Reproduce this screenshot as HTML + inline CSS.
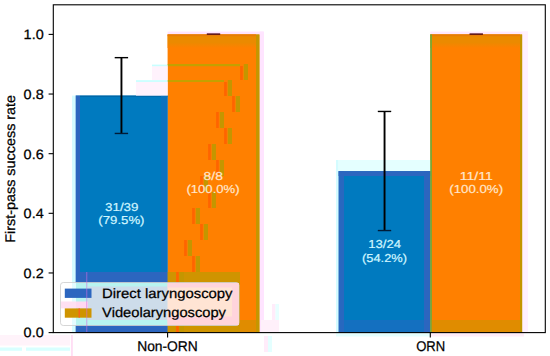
<!DOCTYPE html>
<html><head><meta charset="utf-8">
<style>
html,body{margin:0;padding:0;background:#fff;width:550px;height:356px;overflow:hidden}
svg{display:block}
text{font-family:"Liberation Sans",sans-serif;text-rendering:geometricPrecision}
</style></head>
<body>
<svg width="550" height="356" viewBox="0 0 550 356">
<defs><linearGradient id="tb" x1="0" y1="0" x2="0" y2="1"><stop offset="0" stop-color="#e88400"/><stop offset="0.1" stop-color="#eb8a00"/><stop offset="0.6" stop-color="#eb8a00"/><stop offset="1" stop-color="#ff8000"/></linearGradient></defs>
<rect x="0" y="0" width="550" height="356" fill="#fff"/>
<rect x="75.7" y="95.57" width="91.9" height="237.03" fill="#007abf"/>
<rect x="167.6" y="34.40" width="91.9" height="298.2" fill="#ff8000"/>
<rect x="338.6" y="171.08" width="91.7" height="161.53" fill="#007abf"/>
<rect x="430.3" y="34.40" width="91.9" height="298.2" fill="#ff8000"/>
<rect x="167.6" y="31.6" width="95.90" height="2.80" fill="#ffe4ff"/>
<rect x="430.3" y="31.6" width="97.70" height="2.80" fill="#ffe8ff"/>
<rect x="259.5" y="31.6" width="4.50" height="301.00" fill="#ffe4ff"/>
<rect x="522.2" y="31.6" width="5.80" height="301.00" fill="#fff0ff"/>
<rect x="72" y="95.6" width="3.70" height="237.00" fill="#d4fcff"/>
<rect x="336" y="160" width="2.60" height="172.60" fill="#d4fcff"/>
<rect x="338.6" y="160" width="91.70" height="11.10" fill="#e4ffff"/>
<rect x="75.7" y="95.6" width="4.30" height="237.00" fill="#2c66bf"/>
<rect x="80" y="95.6" width="87.60" height="1.20" fill="#0064a4"/>
<rect x="161" y="95.6" width="6.60" height="237.00" fill="#0c72bf"/>
<rect x="338.6" y="171.1" width="5.40" height="161.50" fill="#2868bf"/>
<rect x="344" y="320" width="80.00" height="12.60" fill="#1470c0"/>
<rect x="424" y="171.1" width="6.30" height="161.50" fill="#2c66bf"/>
<rect x="338.6" y="171.1" width="91.70" height="4.90" fill="#2c66bf"/>
<rect x="167.6" y="34.4" width="88.40" height="13.60" fill="url(#tb)"/>
<rect x="430.3" y="34.4" width="89.70" height="13.60" fill="url(#tb)"/>
<rect x="167.6" y="34.4" width="88.40" height="1.80" fill="#e67c08"/>
<rect x="430.3" y="34.4" width="89.70" height="1.80" fill="#e67c08"/>
<rect x="256" y="34.4" width="3.50" height="298.20" fill="#c49600"/>
<rect x="520" y="34.4" width="2.20" height="298.20" fill="#c49600"/>
<rect x="430.3" y="34.4" width="1.50" height="298.20" fill="#60b040"/>
<rect x="240.1" y="66" width="2.70" height="14.00" fill="#ff6400"/>
<rect x="243.8" y="64" width="4.20" height="16.00" fill="#c49600"/>
<rect x="224.1" y="82" width="2.70" height="14.00" fill="#ff6400"/>
<rect x="227.8" y="80" width="4.20" height="16.00" fill="#c49600"/>
<rect x="232.1" y="96" width="2.70" height="16.00" fill="#ff6400"/>
<rect x="235.8" y="96" width="4.20" height="16.00" fill="#c49600"/>
<rect x="216.1" y="112" width="2.70" height="16.00" fill="#ff6400"/>
<rect x="219.8" y="112" width="4.20" height="16.00" fill="#c49600"/>
<rect x="224.1" y="128" width="2.70" height="16.00" fill="#ff6400"/>
<rect x="227.8" y="128" width="4.20" height="16.00" fill="#c49600"/>
<rect x="208.1" y="144" width="2.70" height="16.00" fill="#ff6400"/>
<rect x="211.8" y="144" width="4.20" height="16.00" fill="#c49600"/>
<rect x="216.1" y="160" width="2.70" height="16.00" fill="#ff6400"/>
<rect x="219.8" y="160" width="4.20" height="16.00" fill="#c49600"/>
<rect x="200.1" y="176" width="2.70" height="16.00" fill="#ff6400"/>
<rect x="203.8" y="176" width="4.20" height="16.00" fill="#c49600"/>
<rect x="208.1" y="192" width="2.70" height="16.00" fill="#ff6400"/>
<rect x="211.8" y="192" width="4.20" height="16.00" fill="#c49600"/>
<rect x="192.1" y="208" width="2.70" height="16.00" fill="#ff6400"/>
<rect x="195.8" y="208" width="4.20" height="16.00" fill="#c49600"/>
<rect x="200.1" y="224" width="2.70" height="16.00" fill="#ff6400"/>
<rect x="203.8" y="224" width="4.20" height="16.00" fill="#c49600"/>
<rect x="184.1" y="240" width="2.70" height="16.00" fill="#ff6400"/>
<rect x="187.8" y="240" width="4.20" height="16.00" fill="#c49600"/>
<rect x="192.1" y="256" width="2.70" height="16.00" fill="#ff6400"/>
<rect x="195.8" y="256" width="4.20" height="16.00" fill="#c49600"/>
<rect x="167.6" y="64" width="72.40" height="2.20" fill="#c4a000"/>
<rect x="167.6" y="80" width="56.40" height="2.00" fill="#c4a000"/>
<rect x="152" y="66.2" width="15.60" height="13.80" fill="#fff2fc"/>
<rect x="136" y="81.9" width="31.60" height="13.70" fill="#fff2fc"/>
<rect x="152" y="64.6" width="15.60" height="1.60" fill="#c8ffff"/>
<rect x="136" y="80.2" width="31.60" height="1.70" fill="#c8ffff"/>
<rect x="80" y="272" width="87.60" height="60.60" fill="#2c66bf"/>
<rect x="167.6" y="272" width="72.40" height="60.60" fill="#cf9400"/>
<rect x="431.8" y="320" width="88.20" height="12.60" fill="#e08c00"/>
<rect x="176.1" y="272" width="2.70" height="16.00" fill="#ff6400"/>
<rect x="179.8" y="272" width="4.20" height="16.00" fill="#c49600"/>
<rect x="184.1" y="288" width="2.70" height="16.00" fill="#ff6400"/>
<rect x="187.8" y="288" width="4.20" height="16.00" fill="#c49600"/>
<rect x="168.1" y="304" width="2.70" height="16.00" fill="#ff6400"/>
<rect x="171.8" y="304" width="4.20" height="16.00" fill="#c49600"/>
<rect x="176.1" y="320" width="2.70" height="12.60" fill="#ff6400"/>
<rect x="179.8" y="320" width="4.20" height="12.60" fill="#c49600"/>
<rect x="0" y="335" width="70.00" height="10.50" fill="#fff3fa"/>
<rect x="0" y="347.5" width="22.00" height="3.30" fill="#d8ffff"/>
<rect x="26" y="347.5" width="44.00" height="3.30" fill="#d8ffff"/>
<rect x="71.3" y="335" width="1.30" height="21.00" fill="#ffd0f0"/>
<rect x="336" y="333.2" width="94.30" height="3.30" fill="#e4ffff"/>
<rect x="240" y="320" width="16.00" height="12.60" fill="#e08c00"/>
<rect x="261" y="320" width="18.00" height="12.00" fill="#fff0fa"/>
<rect x="272" y="304" width="3.50" height="16.00" fill="#ffecfa"/>
<rect x="275.5" y="304" width="3.50" height="16.00" fill="#e8ffff"/>
<rect x="264" y="336" width="4.00" height="16.00" fill="#ffecfa"/>
<rect x="268" y="336" width="4.00" height="16.00" fill="#e4ffff"/>
<rect x="430.3" y="333.2" width="93.70" height="3.30" fill="#ffecf8"/>
<g fill="none">
<line x1="121.45" y1="57.65" x2="121.45" y2="133.45" stroke="#000" stroke-width="1.9"/>
<line x1="114.7" y1="57.65" x2="128.1" y2="57.65" stroke="#000" stroke-width="1.4"/>
<line x1="114.7" y1="133.45" x2="128.1" y2="133.45" stroke="#001c38" stroke-width="1.4"/>
<line x1="384.55" y1="111.45" x2="384.55" y2="230.55" stroke="#000" stroke-width="1.9"/>
<line x1="377.8" y1="111.45" x2="391.2" y2="111.45" stroke="#000" stroke-width="1.4"/>
<line x1="377.8" y1="230.55" x2="391.2" y2="230.55" stroke="#001c38" stroke-width="1.4"/>
<line x1="206.8" y1="34.1" x2="220.2" y2="34.1" stroke="#4a0010" stroke-width="1.4"/>
<line x1="469.55" y1="34.1" x2="482.95" y2="34.1" stroke="#4a0010" stroke-width="1.4"/>
</g>
<text x="105.05" y="210.56" font-size="11.54" textLength="33.37" lengthAdjust="spacingAndGlyphs" fill="#d0f6ff" stroke="#d0f6ff" stroke-width="0.2">31/39</text>
<text x="98.39" y="223.81" font-size="11.54" textLength="46.15" lengthAdjust="spacingAndGlyphs" fill="#d0f6ff" stroke="#d0f6ff" stroke-width="0.2">(79.5%)</text>
<text x="203.58" y="179.98" font-size="11.54" textLength="19.25" lengthAdjust="spacingAndGlyphs" fill="#ffe6cc" stroke="#ffe6cc" stroke-width="0.2">8/8</text>
<text x="186.4" y="193.23" font-size="11.54" textLength="53.25" lengthAdjust="spacingAndGlyphs" fill="#ffe6cc" stroke="#ffe6cc" stroke-width="0.2">(100.0%)</text>
<text x="368.16" y="248.32" font-size="11.54" textLength="32.85" lengthAdjust="spacingAndGlyphs" fill="#d0f6ff" stroke="#d0f6ff" stroke-width="0.2">13/24</text>
<text x="362.01" y="261.57" font-size="11.54" textLength="45.02" lengthAdjust="spacingAndGlyphs" fill="#d0f6ff" stroke="#d0f6ff" stroke-width="0.2">(54.2%)</text>
<text x="459.7" y="179.98" font-size="11.54" textLength="33.14" lengthAdjust="spacingAndGlyphs" fill="#ffe6cc" stroke="#ffe6cc" stroke-width="0.2">11/11</text>
<text x="449.3" y="193.23" font-size="11.54" textLength="53.78" lengthAdjust="spacingAndGlyphs" fill="#ffe6cc" stroke="#ffe6cc" stroke-width="0.2">(100.0%)</text>
<rect x="60.5" y="282.5" width="178.5" height="43" rx="2.8" fill="#fff" fill-opacity="0.8" stroke="#ccc" stroke-opacity="0.8" stroke-width="1"/>
<rect x="76" y="283" width="91.60" height="42.00" fill="#cddcea"/>
<rect x="76" y="283" width="91.60" height="3.50" fill="#b8f4f0"/>
<rect x="76" y="320" width="91.60" height="5.00" fill="#b8f4f0"/>
<rect x="76" y="283" width="12.00" height="42.00" fill="#b8f4f0"/>
<rect x="72" y="283" width="4.00" height="42.00" fill="#e4fcff"/>
<rect x="167.6" y="283" width="70.90" height="42.00" fill="#ffe4d4"/>
<rect x="167.6" y="283" width="70.90" height="4.50" fill="#ffd4dc"/>
<rect x="167.6" y="316.5" width="70.90" height="8.50" fill="#ffd4dc"/>
<rect x="232" y="283" width="6.50" height="42.00" fill="#ffd4dc"/>
<rect x="61" y="301.5" width="15.00" height="6.90" fill="#ffe0f2"/>
<rect x="76" y="301.5" width="12.00" height="6.90" fill="#ffd8f0"/>
<rect x="64.8" y="288.6" width="26.7" height="9.3" fill="#2c66bf"/>
<rect x="64.8" y="308.4" width="26.7" height="9.3" fill="#cf9400"/>
<rect x="78.6" y="308.4" width="1.2" height="9.3" fill="#ff5a20"/>
<rect x="86.2" y="272" width="1.1" height="60.6" fill="#d070e0" fill-opacity="0.55"/>
<text x="102.01" y="297.53" font-size="13.56" textLength="130.54" lengthAdjust="spacingAndGlyphs" fill="#000" stroke="#000" stroke-width="0.25">Direct laryngoscopy</text>
<text x="102.14" y="317.23" font-size="13.56" textLength="123.8" lengthAdjust="spacingAndGlyphs" fill="#000" stroke="#000" stroke-width="0.25">Videolaryngoscopy</text>
<rect x="53.3" y="4.8" width="492" height="327.8" fill="none" stroke="#000" stroke-width="1.1"/>
<g stroke="#000" stroke-width="1.1">
<line x1="48.6" y1="332.60" x2="53.3" y2="332.60"/>
<line x1="48.6" y1="272.96" x2="53.3" y2="272.96"/>
<line x1="48.6" y1="213.32" x2="53.3" y2="213.32"/>
<line x1="48.6" y1="153.68" x2="53.3" y2="153.68"/>
<line x1="48.6" y1="94.04" x2="53.3" y2="94.04"/>
<line x1="48.6" y1="34.40" x2="53.3" y2="34.40"/>
<line x1="167.6" y1="332.6" x2="167.6" y2="337.5"/>
<line x1="430.3" y1="332.6" x2="430.3" y2="337.5"/>
</g>
<text x="23.64" y="337.45" font-size="13.57" textLength="20.07" lengthAdjust="spacingAndGlyphs" fill="#000" stroke="#000" stroke-width="0.25">0.0</text>
<text x="23.64" y="277.81" font-size="13.57" textLength="20.07" lengthAdjust="spacingAndGlyphs" fill="#000" stroke="#000" stroke-width="0.25">0.2</text>
<text x="23.64" y="218.17" font-size="13.57" textLength="20.07" lengthAdjust="spacingAndGlyphs" fill="#000" stroke="#000" stroke-width="0.25">0.4</text>
<text x="23.64" y="158.53" font-size="13.57" textLength="20.07" lengthAdjust="spacingAndGlyphs" fill="#000" stroke="#000" stroke-width="0.25">0.6</text>
<text x="23.64" y="98.89" font-size="13.57" textLength="20.07" lengthAdjust="spacingAndGlyphs" fill="#000" stroke="#000" stroke-width="0.25">0.8</text>
<text x="23.64" y="39.25" font-size="13.57" textLength="20.07" lengthAdjust="spacingAndGlyphs" fill="#000" stroke="#000" stroke-width="0.25">1.0</text>
<text x="137.16" y="351.45" font-size="14.06" textLength="60.68" lengthAdjust="spacingAndGlyphs" fill="#000" stroke="#000" stroke-width="0.25">Non-ORN</text>
<text x="416.18" y="351.30" font-size="14.06" textLength="29.02" lengthAdjust="spacingAndGlyphs" fill="#000" stroke="#000" stroke-width="0.25">ORN</text>
<text transform="translate(14.6,242.76) rotate(-90)" font-size="13.9" textLength="147.87" lengthAdjust="spacingAndGlyphs" fill="#000" stroke="#000" stroke-width="0.25">First-pass success rate</text>
</svg>
</body></html>
